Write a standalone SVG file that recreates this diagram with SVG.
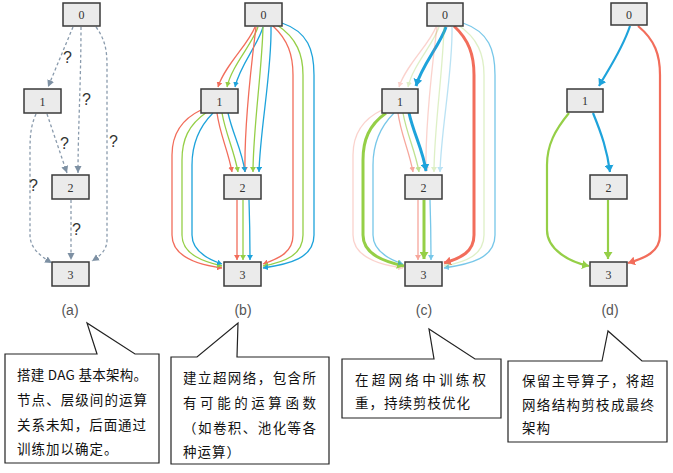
<svg xmlns="http://www.w3.org/2000/svg" width="673" height="473" viewBox="0 0 673 473">
<style>
.node rect{fill:#ebebeb;stroke:#3a3a3a;stroke-width:1.5}
.node text{font-family:"Liberation Serif",serif;font-size:12px;fill:#333;text-anchor:middle}
.e{fill:none;stroke-width:1.3}
.g{stroke:#8a9bad;stroke-dasharray:3 2.5;stroke-width:1.3}
.r{stroke:#f26d5b}
.gr{stroke:#95cf47}
.b{stroke:#1ea3db}
.thick{stroke-width:3}
.mid{stroke-width:2.2}
.faint{opacity:0.3}
.half{opacity:0.6}
.q{font-family:"Liberation Sans",Arial,sans-serif;font-size:16px;fill:#333}
.lab{font-family:"Liberation Sans",Arial,sans-serif;font-size:14px;fill:#555;text-anchor:middle}
.call path{fill:#fff;stroke:#222;stroke-width:1.2}
.call text{font-family:"Noto Sans CJK SC","Noto Sans CJK TC",sans-serif;font-size:13.5px;fill:#111;letter-spacing:1px}
</style>
<defs>
<marker id="mg" markerUnits="userSpaceOnUse" markerWidth="8" markerHeight="8" refX="7" refY="4" orient="auto"><path d="M0,0.5 L7,4 L0,7.5 z" fill="#7d90a3"/></marker>
<marker id="mr" markerUnits="userSpaceOnUse" markerWidth="6" markerHeight="6" refX="5" refY="3" orient="auto"><path d="M0,0 L5,3 L0,6 z" fill="#f26d5b"/></marker>
<marker id="mgr" markerUnits="userSpaceOnUse" markerWidth="6" markerHeight="6" refX="5" refY="3" orient="auto"><path d="M0,0 L5,3 L0,6 z" fill="#95cf47"/></marker>
<marker id="mb" markerUnits="userSpaceOnUse" markerWidth="6" markerHeight="6" refX="5" refY="3" orient="auto"><path d="M0,0 L5,3 L0,6 z" fill="#1ea3db"/></marker>
<marker id="Mr" markerUnits="userSpaceOnUse" markerWidth="9" markerHeight="9" refX="7" refY="4.5" orient="auto"><path d="M0,0 L7,4.5 L0,9 z" fill="#f26d5b"/></marker>
<marker id="Mgr" markerUnits="userSpaceOnUse" markerWidth="9" markerHeight="9" refX="7" refY="4.5" orient="auto"><path d="M0,0 L7,4.5 L0,9 z" fill="#95cf47"/></marker>
<marker id="Mb" markerUnits="userSpaceOnUse" markerWidth="9" markerHeight="9" refX="7" refY="4.5" orient="auto"><path d="M0,0 L7,4.5 L0,9 z" fill="#1ea3db"/></marker>
</defs>
<rect width="673" height="473" fill="#fff"/>

<g id="connectors">
<!-- panel a -->
<g class="e g" marker-end="url(#mg)">
<path d="M73,27 L48,87"/>
<path d="M81,27 C81,80 78,130 78,173"/>
<path d="M96,27 C104,38 107,48 107,65 L107,240 C107,250 100,256 92,261"/>
<path d="M47,114 L67,173"/>
<path d="M36,114 C31,125 30,135 30,150 L30,235 C30,248 40,256 52,263"/>
<path d="M71,200 L71,260"/>
</g>
<g class="q">
<text x="63" y="63">?</text>
<text x="82" y="105">?</text>
<text x="109" y="147">?</text>
<text x="60" y="149">?</text>
<text x="29" y="191">?</text>
<text x="72" y="235">?</text>
</g>
<!-- panel b -->
<g class="e">
<path class="r" marker-end="url(#mr)" d="M255,27 C248,45 225,65 218,87"/>
<path class="gr" marker-end="url(#mgr)" d="M258,27 C252,45 232,65 227,87"/>
<path class="b" marker-end="url(#mb)" d="M263,27 C258,45 240,65 235,87"/>
<path class="r" marker-end="url(#mr)" d="M256,27 C252,60 244,120 245,172"/>
<path class="gr" marker-end="url(#mgr)" d="M263,27 C262,70 253,130 253,172"/>
<path class="b" marker-end="url(#mb)" d="M271,27 C272,70 260,130 259,172"/>
<path class="r" marker-end="url(#mr)" d="M217,113 C220,135 228,150 232,172"/>
<path class="gr" marker-end="url(#mgr)" d="M222,113 C226,135 234,150 238,172"/>
<path class="b" marker-end="url(#mb)" d="M228,113 C233,135 242,150 245,172"/>
<path class="r" marker-end="url(#mr)" d="M273,26 C288,40 293,55 293,75 L293,235 C293,252 280,258 263,264"/>
<path class="gr" marker-end="url(#mgr)" d="M277,25 C297,38 303,55 303,75 L303,235 C303,255 285,262 263,266"/>
<path class="b" marker-end="url(#mb)" d="M282,23 C308,32 314,50 314,75 L314,235 C314,258 290,264 263,268"/>
<path class="r" marker-end="url(#mr)" d="M201,110 C180,120 172,135 172,155 L172,235 C172,258 200,265 222,268"/>
<path class="gr" marker-end="url(#mgr)" d="M207,112 C188,125 182,140 182,160 L182,235 C182,255 205,262 222,266"/>
<path class="b" marker-end="url(#mb)" d="M213,113 C198,128 192,145 192,165 L192,235 C192,252 210,260 222,264"/>
<path class="r" marker-end="url(#mr)" d="M237,200 L237,260"/>
<path class="gr" marker-end="url(#mgr)" d="M243,200 L243,260"/>
<path class="b" marker-end="url(#mb)" d="M249,200 C250,230 250,240 250,260"/>
</g>
<!-- panel c -->
<g class="e">
<path class="r faint" marker-end="url(#mr)" d="M436,27 C429,45 406,65 399,87"/>
<path class="gr faint" marker-end="url(#mgr)" d="M439,27 C433,45 413,65 408,87"/>
<path class="b thick" marker-end="url(#Mb)" d="M446,27 C440,45 422,65 416,86"/>
<path class="r faint" marker-end="url(#mr)" d="M437,27 C433,60 425,120 426,172"/>
<path class="gr faint" marker-end="url(#mgr)" d="M444,27 C443,70 434,130 434,172"/>
<path class="b faint" marker-end="url(#mb)" d="M452,27 C453,70 441,130 440,172"/>
<path class="r half" marker-end="url(#mr)" d="M398,113 C401,135 409,150 413,172"/>
<path class="gr half" marker-end="url(#mgr)" d="M403,113 C407,135 415,150 419,172"/>
<path class="b thick" marker-end="url(#Mb)" d="M409,113 C414,135 423,150 426,171"/>
<path class="r thick" marker-end="url(#Mr)" d="M454,26 C469,40 474,55 474,75 L474,235 C474,252 461,258 444,263"/>
<path class="gr faint" marker-end="url(#mgr)" d="M458,25 C478,38 484,55 484,75 L484,235 C484,255 466,262 444,266"/>
<path class="b half" marker-end="url(#mb)" d="M463,23 C489,32 495,50 495,75 L495,235 C495,258 471,264 444,268"/>
<path class="r faint" marker-end="url(#mr)" d="M382,110 C361,120 353,135 353,155 L353,235 C353,258 381,265 403,268"/>
<path class="gr thick" marker-end="url(#Mgr)" d="M386,113 C369,125 363,140 363,160 L363,235 C363,255 386,262 404,266"/>
<path class="b half" marker-end="url(#mb)" d="M394,113 C379,128 373,145 373,165 L373,235 C373,252 391,260 403,264"/>
<path class="r half" marker-end="url(#mr)" d="M418,200 L418,260"/>
<path class="gr thick" marker-end="url(#Mgr)" d="M424,200 L424,259"/>
<path class="b half" marker-end="url(#mb)" d="M430,200 C431,230 431,240 431,260"/>
</g>
<!-- panel d -->
<g class="e mid">
<path class="b" marker-end="url(#Mb)" d="M630,26 C622,50 608,70 599,86"/>
<path class="r" marker-end="url(#Mr)" d="M638,26 C655,40 660,55 660,75 L660,235 C660,252 645,258 628,263"/>
<path class="gr" marker-end="url(#Mgr)" d="M569,113 C555,130 547,145 547,165 L547,230 C547,250 570,262 589,266"/>
<path class="b" marker-end="url(#Mb)" d="M593,113 C602,135 607,150 610,172"/>
<path class="gr" marker-end="url(#Mgr)" d="M608,200 L608,259"/>
</g>
</g>

<!-- nodes panel a -->
<g id="a0" class="node"><rect x="63" y="3" width="37" height="23"/><text x="81.5" y="19">0</text></g>
<g id="a1" class="node"><rect x="24" y="89" width="37" height="24"/><text x="42.5" y="105.5">1</text></g>
<g id="a2" class="node"><rect x="52" y="175" width="37" height="24"/><text x="70.5" y="191.5">2</text></g>
<g id="a3" class="node"><rect x="52" y="262" width="37" height="24"/><text x="70.5" y="278.5">3</text></g>
<!-- nodes panel b -->
<g id="b0" class="node"><rect x="245" y="3" width="37" height="23"/><text x="263.5" y="19">0</text></g>
<g id="b1" class="node"><rect x="201" y="89" width="37" height="24"/><text x="219.5" y="105.5">1</text></g>
<g id="b2" class="node"><rect x="224" y="175" width="37" height="24"/><text x="242.5" y="191.5">2</text></g>
<g id="b3" class="node"><rect x="224" y="262" width="37" height="24"/><text x="242.5" y="278.5">3</text></g>
<!-- nodes panel c -->
<g id="c0" class="node"><rect x="427" y="3" width="36" height="23"/><text x="445" y="19">0</text></g>
<g id="c1" class="node"><rect x="382" y="89" width="36" height="24"/><text x="400" y="105.5">1</text></g>
<g id="c2" class="node"><rect x="405" y="175" width="37" height="24"/><text x="423.5" y="191.5">2</text></g>
<g id="c3" class="node"><rect x="405" y="262" width="37" height="24"/><text x="423.5" y="278.5">3</text></g>
<!-- nodes panel d -->
<g id="d0" class="node"><rect x="611" y="3" width="36" height="22"/><text x="629" y="18.5">0</text></g>
<g id="d1" class="node"><rect x="567" y="89" width="36" height="23"/><text x="585" y="105">1</text></g>
<g id="d2" class="node"><rect x="590" y="175" width="37" height="24"/><text x="608.5" y="191.5">2</text></g>
<g id="d3" class="node"><rect x="590" y="262" width="37" height="24"/><text x="608.5" y="278.5">3</text></g>

<g id="labels" class="lab">
<text x="70" y="315">(a)</text>
<text x="243" y="315">(b)</text>
<text x="424" y="315">(c)</text>
<text x="610" y="315">(d)</text>
</g>

<g id="callout-a" class="call">
<path d="M5,354 H97 L87,323 L135,354 H159 V463 H5 Z"/>
<text x="17" y="380" textLength="131" lengthAdjust="spacing">搭建 DAG 基本架构。</text>
<text x="17" y="405" textLength="131" lengthAdjust="spacing">节点、层级间的运算</text>
<text x="17" y="430" textLength="130" lengthAdjust="spacing">关系未知，后面通过</text>
<text x="17" y="454">训练加以确定。</text>
</g>
<g id="callout-b" class="call">
<path d="M171,357 H197 L238,323 L237,357 H329 V464 H171 Z"/>
<text x="183" y="383" textLength="134" lengthAdjust="spacing">建立超网络，包含所</text>
<text x="183" y="408" textLength="134" lengthAdjust="spacing">有可能的运算函数</text>
<text x="183" y="433" textLength="134" lengthAdjust="spacing">（如卷积、池化等各</text>
<text x="183" y="457">种运算）</text>
</g>
<g id="callout-c" class="call">
<path d="M342,359 H434 L429,329 L475,359 H501 V418 H342 Z"/>
<text x="355" y="385" textLength="132" lengthAdjust="spacing">在超网络中训练权</text>
<text x="355" y="408">重，持续剪枝优化</text>
</g>
<g id="callout-d" class="call">
<path d="M508,361 H602 L608,331 L642,361 H667 V442 H508 Z"/>
<text x="522" y="386" textLength="133" lengthAdjust="spacing">保留主导算子，将超</text>
<text x="522" y="410" textLength="133" lengthAdjust="spacing">网络结构剪枝成最终</text>
<text x="522" y="433">架构</text>
</g>
</svg>
